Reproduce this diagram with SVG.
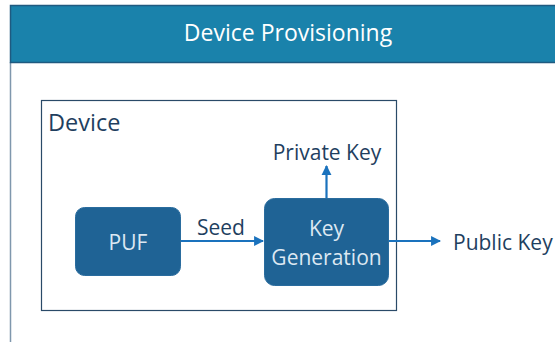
<svg xmlns="http://www.w3.org/2000/svg" width="555" height="342" viewBox="0 0 555 342">
<style>
.lbl{font-family:"Open Sans","Liberation Sans",sans-serif;fill:#1f3f5f;font-size:21px}
.ntx{font-family:"Open Sans","Liberation Sans",sans-serif;fill:#dce8f2;font-size:21px;text-anchor:middle}
.node{fill:#1f6395;stroke:#2a6c9e;stroke-width:1}
.conn{stroke:#1a72bd;stroke-width:2.2;fill:none;marker-end:url(#ah)}
</style>
<defs>
<marker id="ah" viewBox="0 0 10 10" refX="9" refY="5" markerWidth="4.5" markerHeight="5" orient="auto" markerUnits="strokeWidth">
<path d="M0,0 L10,5 L0,10 z" fill="#1a72bd"/>
</marker>
</defs>
<rect width="555" height="342" fill="#ffffff"/>
<g id="frame">
<line x1="10.5" y1="62" x2="10.5" y2="342" stroke="#7f97ad" stroke-width="1.5"/>
<rect x="10.5" y="5.5" width="550" height="57" fill="#1a82ab" stroke="#1f5a80" stroke-width="1.5"/>
<text x="288" y="41" font-family="'Open Sans','Liberation Sans',sans-serif" font-size="23" fill="#ffffff" text-anchor="middle">Device Provisioning</text>
</g>
<g id="device">
<rect x="41.5" y="100.5" width="355" height="210" fill="none" stroke="#2a4a68" stroke-width="1.2"/>
<text class="lbl" x="48" y="131" style="font-size:23.5px">Device</text>
</g>
<g id="puf">
<rect class="node" x="75.5" y="207.5" width="105" height="68" rx="9"/>
<text class="ntx" x="128" y="250">PUF</text>
</g>
<g id="keygen">
<rect class="node" x="264.5" y="198.5" width="124" height="87" rx="10"/>
<text class="ntx" x="326.5" y="236">Key</text>
<text class="ntx" x="326.5" y="265">Generation</text>
</g>
<g id="connectors">
<line class="conn" x1="181" y1="241" x2="263" y2="241"/>
<line class="conn" x1="326.5" y1="198" x2="326.5" y2="166"/>
<line class="conn" x1="389" y1="241" x2="440" y2="241"/>
</g>
<g id="labels">
<text class="lbl" x="197" y="235">Seed</text>
<text class="lbl" x="327" y="160" text-anchor="middle">Private Key</text>
<text class="lbl" x="453" y="250">Public Key</text>
</g>
</svg>
